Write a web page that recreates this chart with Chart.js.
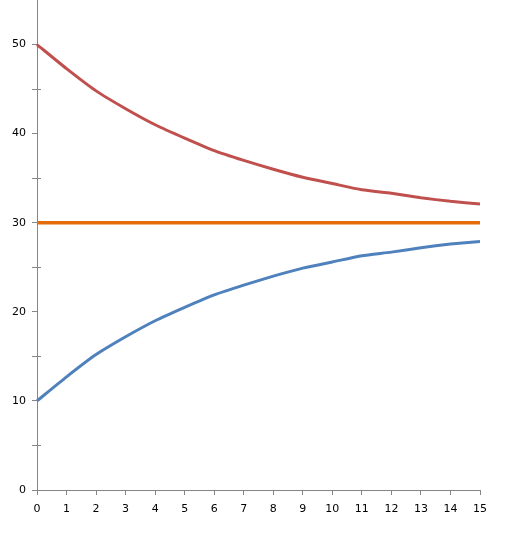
<!DOCTYPE html>
<html>
<head>
<meta charset="utf-8">
<script src="https://cdn.jsdelivr.net/npm/chart.js@4/dist/chart.umd.min.js"></script>
<style>
  html, body { margin: 0; padding: 0; background: #fff; }
  #wrap { width: 510px; height: 540px; position: relative; }
</style>
</head>
<body>
<div id="wrap"><canvas id="chart"></canvas></div>
<script>
const steps = ['0', '1', '2', '3', '4', '5', '6', '7', '8', '9', '10', '11', '12', '13', '14', '15'];
const upper = [50, 47.3, 44.8, 42.8, 41.0, 39.5, 38.1, 37.0, 36.0, 35.1, 34.4, 33.7, 33.3, 32.8, 32.4, 32.1];
const middle = [30, 30, 30, 30, 30, 30, 30, 30, 30, 30, 30, 30, 30, 30, 30, 30];
const lower = [10, 12.7, 15.2, 17.2, 19.0, 20.5, 21.9, 23.0, 24.0, 24.9, 25.6, 26.3, 26.7, 27.2, 27.6, 27.9];

const axisGray = '#868686';
const yTop = 55;

// Excel draws the minor ticks across the axis, Chart.js only outside
const minorCross = {
    id: 'minorCross',
    afterDraw(chart) {
        const y = chart.scales.y;
        const ctx = chart.ctx;
        ctx.save();
        ctx.strokeStyle = axisGray;
        ctx.lineWidth = 1;
        y.ticks.forEach(t => {
            if (t.value % 10 !== 0 && t.value !== yTop) {
                const py = Math.round(y.getPixelForValue(t.value)) + 0.5;
                ctx.beginPath();
                ctx.moveTo(y.right, py);
                ctx.lineTo(y.right + 4, py);
                ctx.stroke();
            }
        });
        ctx.restore();
    }
};

new Chart(document.getElementById('chart'), {
    type: 'line',
    data: {
        labels: steps,
        datasets: [
            { data: upper, borderColor: '#C0504D', borderWidth: 3, pointRadius: 0, tension: 0.2, fill: false },
            { data: middle, borderColor: '#E46C0A', borderWidth: 3.5, pointRadius: 0, tension: 0, fill: false },
            { data: lower, borderColor: '#4F81BD', borderWidth: 3, pointRadius: 0, tension: 0.2, fill: false }
        ]
    },
    options: {
        responsive: true,
        maintainAspectRatio: false,
        animation: false,
        layout: { padding: { top: 0, right: 30, left: 0, bottom: 0 } },
        plugins: {
            legend: { display: false },
            tooltip: { enabled: false }
        },
        scales: {
            x: {
                offset: false,
                afterFit: scale => { scale.height = 50; },
                grid: { drawOnChartArea: false, color: axisGray, tickLength: 5, tickColor: axisGray },
                border: { color: axisGray, width: 1 },
                ticks: {
                    color: '#000', padding: 8, maxRotation: 0, autoSkip: false,
                    font: { family: 'DejaVu Sans', size: 11 }
                }
            },
            y: {
                min: 0,
                max: yTop,
                afterFit: scale => {
                    scale.width = 37;
                    scale.paddingTop = 0;
                    scale.paddingBottom = 0;
                },
                grid: {
                    drawOnChartArea: false, color: axisGray, tickLength: 5,
                    tickColor: c => (c.tick && c.tick.value === yTop ? 'rgba(0,0,0,0)' : axisGray)
                },
                border: { color: axisGray, width: 1 },
                ticks: {
                    stepSize: 5, color: '#000', padding: 6,
                    font: { family: 'DejaVu Sans', size: 11 },
                    callback: v => (v % 10 === 0 ? v : '')
                }
            }
        }
    },
    plugins: [minorCross]
});
</script>
</body>
</html>
